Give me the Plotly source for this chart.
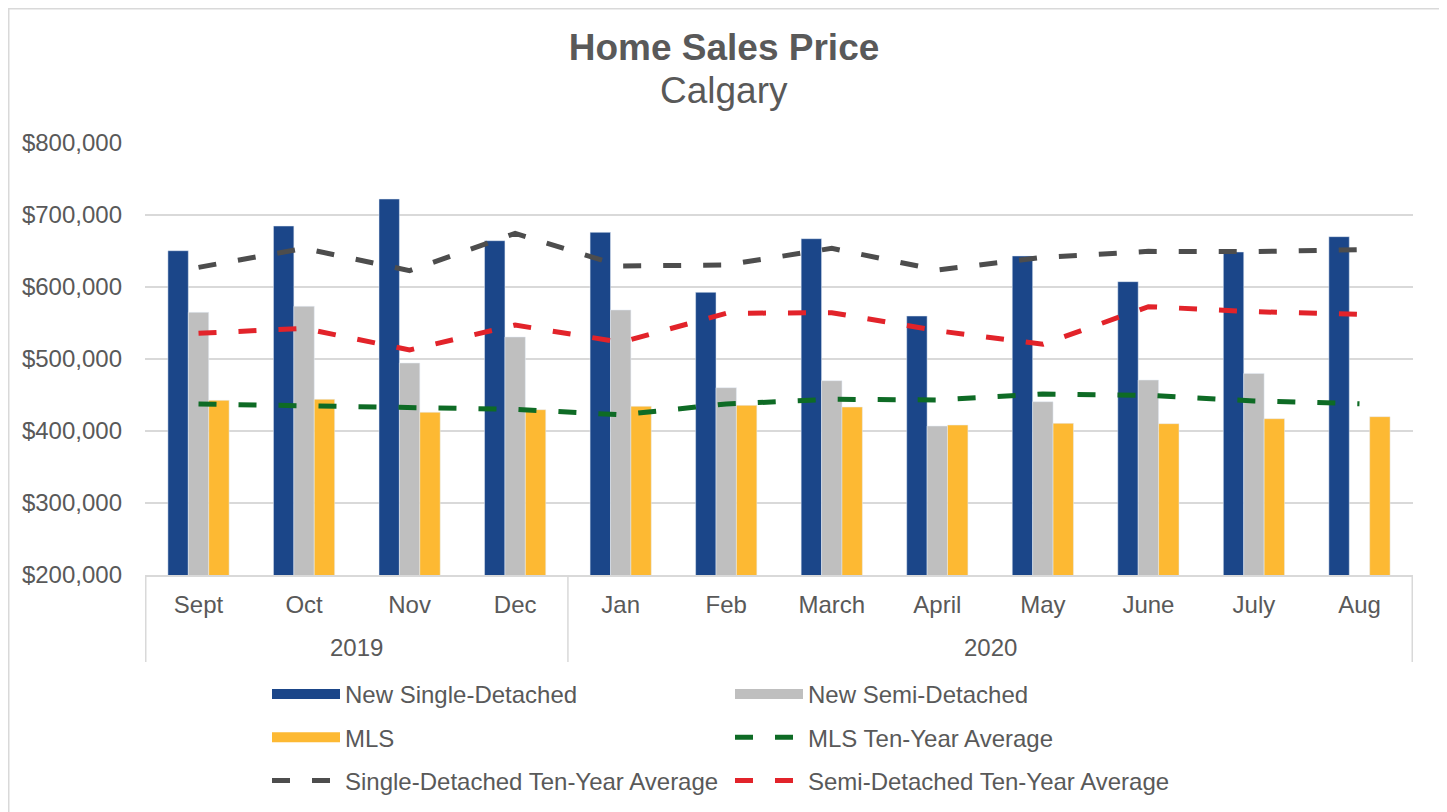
import plotly.graph_objects as go

months = ["Sept", "Oct", "Nov", "Dec", "Jan", "Feb", "March", "April", "May", "June", "July", "Aug"]
years = ["2019"] * 4 + ["2020"] * 8

new_single = [650400, 684700, 722200, 664300, 675900, 592600, 667100, 559700, 643100, 607400, 648600, 669900]
new_semi = [564800, 573200, 494400, 530600, 568100, 460200, 469900, 406900, 440700, 470800, 480000, None]
mls = [442600, 444000, 426000, 429600, 434300, 435600, 433300, 408300, 410600, 410200, 417100, 419900]
mls_avg = [437500, 435600, 432900, 430100, 422500, 437500, 444000, 443100, 451400, 449500, 441700, 437900]
single_avg = [627300, 653700, 622700, 674500, 629200, 630600, 653700, 623600, 641200, 649500, 649100, 651900]
semi_avg = [535700, 542600, 512500, 547200, 523200, 563400, 564300, 539300, 520400, 572700, 565700, 562100]

FONT = "Liberation Sans, Arial, sans-serif"
TXT = "#595959"
GRID = "#D9D9D9"
C_SINGLE, C_SEMI, C_MLS = "#1B4689", "#BFBFBF", "#FDB933"
C_MLSAVG, C_SINGLEAVG, C_SEMIAVG = "#0E6B25", "#4D4D4D", "#E2232A"

# figure is placed 8px into the page by the body margin
W, H = 1439, 804
ML, MT = 137, 135
PW, PH = 1268, 432
MR, MB = W - ML - PW, H - MT - PH

fig = go.Figure()
fig.add_trace(go.Bar(x=months, y=new_single, name="New Single-Detached", marker=dict(color=C_SINGLE),
                     showlegend=False))
fig.add_trace(go.Bar(x=months, y=new_semi, name="New Semi-Detached", marker=dict(color=C_SEMI),
                     showlegend=False))
fig.add_trace(go.Bar(x=months, y=mls, name="MLS", marker=dict(color=C_MLS), showlegend=False))
dash = "18px,22px"
fig.add_trace(go.Scatter(x=months, y=mls_avg, name="MLS Ten-Year Average", mode="lines",
                         line=dict(color=C_MLSAVG, width=5, dash=dash),
                         legend="legend2", legendgroup="d", legendrank=2))
fig.add_trace(go.Scatter(x=months, y=single_avg, name="Single-Detached Ten-Year Average", mode="lines",
                         line=dict(color=C_SINGLEAVG, width=5, dash=dash),
                         legend="legend", legendgroup="e", legendrank=3))
fig.add_trace(go.Scatter(x=months, y=semi_avg, name="Semi-Detached Ten-Year Average", mode="lines",
                         line=dict(color=C_SEMIAVG, width=5, dash=dash),
                         legend="legend2", legendgroup="f", legendrank=3))

# legend swatches for the bar series (wide bands like the reference)
for nm, col, lg, grp, rk in [("New Single-Detached", C_SINGLE, "legend", "a", 1),
                             ("New Semi-Detached", C_SEMI, "legend2", "b", 1),
                             ("MLS", C_MLS, "legend", "c", 2)]:
    fig.add_trace(go.Scatter(x=[None], y=[None], name=nm, mode="lines",
                             line=dict(color=col, width=14), legend=lg, legendgroup=grp,
                             legendrank=rk, hoverinfo="skip"))

legend_common = dict(orientation="v", xanchor="left", yanchor="top", itemwidth=68,
                     tracegroupgap=9, font=dict(family=FONT, size=24, color=TXT),
                     bgcolor="rgba(0,0,0,0)", traceorder="grouped", itemclick=False,
                     itemdoubleclick=False)

leg_y = -(664 - MT - PH) / PH

# year group labels and dividers, derived from the year list
annotations = []
shapes = []
groups = []
for i, yv in enumerate(years):
    if not groups or groups[-1][0] != yv:
        groups.append([yv, i, i])
    else:
        groups[-1][2] = i
for yv, a, b in groups:
    annotations.append(dict(text=yv, x=(a + b) / 2, xref="x", y=-72 / PH, yref="paper",
                            xanchor="center", yanchor="middle", showarrow=False,
                            font=dict(family=FONT, size=24, color=TXT)))
bounds = [groups[0][1] - 0.5] + [b + 0.5 for _, _, b in groups]
for bx in bounds:
    shapes.append(dict(type="line", xref="x", yref="paper", x0=bx, x1=bx, y0=0, y1=-87 / PH,
                       line=dict(color=GRID, width=1.5)))

annotations.append(dict(text="Calgary", x=(716 - ML) / PW, xref="paper", y=(MT + PH - 82) / PH,
                        yref="paper", xanchor="center", yanchor="middle", showarrow=False,
                        font=dict(family=FONT, size=37, color=TXT)))

shapes.append(dict(type="rect", xref="paper", yref="paper",
                   x0=(0.75 - ML) / PW, x1=(1435 - ML) / PW,
                   y0=-(H + 10 - MT - PH) / PH, y1=(MT + PH - 0.75) / PH,
                   line=dict(color=GRID, width=1.5), fillcolor="rgba(0,0,0,0)", layer="below"))

fig.update_layout(
    width=W, height=H,
    margin=dict(l=ML, r=MR, t=MT, b=MB, autoexpand=False),
    paper_bgcolor="white", plot_bgcolor="white",
    font=dict(family=FONT, size=24, color=TXT),
    title=dict(text="<b>Home Sales Price</b>", x=(716) / W, xref="container", xanchor="center",
               y=1 - 39 / H, yanchor="middle", font=dict(family=FONT, size=37, color=TXT)),
    barmode="group", bargap=0.42, bargroupgap=0,
    showlegend=True,
    legend=dict(x=(259 - ML) / PW, y=leg_y, **legend_common),
    legend2=dict(x=(722 - ML) / PW, y=leg_y, **legend_common),
    xaxis=dict(type="category", showgrid=False, showline=True, linecolor=GRID, linewidth=1.5,
               ticks="", ticklabelstandoff=7, tickfont=dict(family=FONT, size=24, color=TXT)),
    yaxis=dict(range=[200000, 800000], dtick=100000, tickformat="$,.0f",
               showgrid=True, gridcolor=GRID, gridwidth=1.5, zeroline=False, showline=False,
               ticklabelstandoff=22, tickfont=dict(family=FONT, size=24, color=TXT)),
    annotations=annotations,
    shapes=shapes,
)

fig.write_html("out.html")
